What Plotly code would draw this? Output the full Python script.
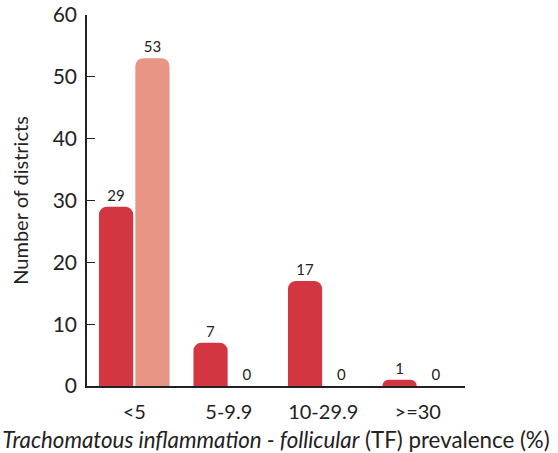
import plotly.graph_objects as go

categories = ["<5", "5-9.9", "10-29.9", ">=30"]
series_a = [29, 7, 17, 1]
series_b = [53, 0, 0, 0]
y_ticks = [0, 10, 20, 30, 40, 50, 60]

RED = "#D13641"
PINK = "#E89585"
FONT = "Lato"
INK = "#222222"

fig = go.Figure()
fig.add_trace(go.Bar(x=categories, y=series_a, marker=dict(color=RED, cornerradius=8, line=dict(width=0)),
                     text=[str(v) for v in series_a], textposition="outside",
                     textfont=dict(size=15, color=INK), cliponaxis=False))
fig.add_trace(go.Bar(x=categories, y=series_b, marker=dict(color=PINK, cornerradius=8, line=dict(width=0)),
                     text=[str(v) for v in series_b], textposition="outside",
                     textfont=dict(size=15, color=INK), cliponaxis=False))

fig.update_layout(
    template="none",
    width=558, height=453,
    margin=dict(l=87, r=93, t=15, b=67, autoexpand=False),
    plot_bgcolor="white", paper_bgcolor="white",
    showlegend=False,
    barmode="group", bargap=0.23, bargroupgap=0.06,
    font=dict(family=FONT, color=INK),
    xaxis=dict(
        type="category", range=[-0.5, 3.5], automargin=False,
        showline=True, linecolor=INK, linewidth=1.5,
        ticks="", showgrid=False, zeroline=False,
        tickfont=dict(size=20, family=FONT), ticklabelstandoff=7,
        title=dict(text="<i>Trachomatous inflammation - follicular</i> (TF) prevalence (%)",
                   font=dict(size=22.3, family=FONT), standoff=12),
    ),
    yaxis=dict(
        range=[0, 60], tickvals=y_ticks, automargin=False,
        showline=True, linecolor=INK, linewidth=1.5,
        ticks="inside", ticklen=8, tickcolor=INK, tickwidth=1.2,
        showgrid=False, zeroline=False, ticklabeloverflow="allow",
        tickfont=dict(size=21, family=FONT), ticklabelstandoff=4,
        title=dict(text="Number of districts", font=dict(size=20, family=FONT), standoff=19),
    ),
)

# remove the browser's default 8px body margin so the figure sits at the page origin
fig.write_html("out.html", config={"displayModeBar": False},
               post_script="document.body.style.margin='0';")
